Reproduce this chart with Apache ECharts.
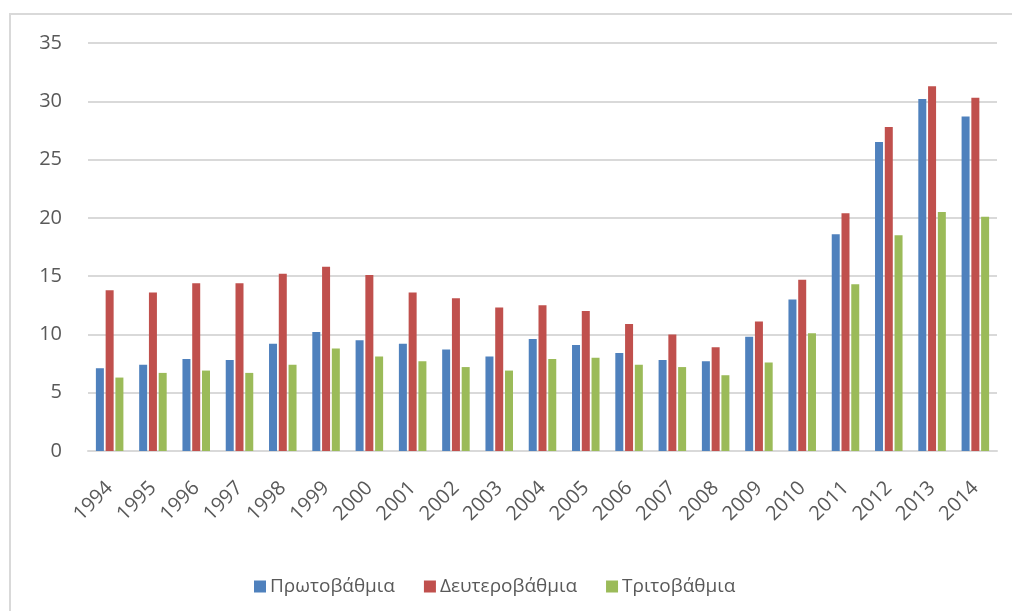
<!DOCTYPE html>
<html>
<head>
<meta charset="utf-8">
<script src="https://cdn.jsdelivr.net/npm/echarts@6/dist/echarts.min.js"></script>
<style>
  html, body { margin: 0; padding: 0; overflow: hidden; background: #fff; }
  #frame {
    position: absolute; left: 9px; top: 13px; width: 1100px; height: 700px;
    border: 2px solid #d9d9d9; box-sizing: border-box;
  }
  #chart { position: absolute; left: 0; top: 0; width: 1012px; height: 611px; }
</style>
</head>
<body>
<div id="frame"></div>
<div id="chart"></div>
<script>
const years = ['1994', '1995', '1996', '1997', '1998', '1999', '2000', '2001', '2002', '2003', '2004',
  '2005', '2006', '2007', '2008', '2009', '2010', '2011', '2012', '2013', '2014']
const primary = [7.1, 7.4, 7.9, 7.8, 9.2, 10.2, 9.5, 9.2, 8.7, 8.1, 9.6, 9.1, 8.4, 7.8, 7.7, 9.8, 13.0, 18.6, 26.5, 30.2, 28.7]
const secondary = [13.8, 13.6, 14.4, 14.4, 15.2, 15.8, 15.1, 13.6, 13.1, 12.3, 12.5, 12.0, 10.9, 10.0, 8.9, 11.1, 14.7, 20.4, 27.8, 31.3, 30.3]
const tertiary = [6.3, 6.7, 6.9, 6.7, 7.4, 8.8, 8.1, 7.7, 7.2, 6.9, 7.9, 8.0, 7.4, 7.2, 6.5, 7.6, 10.1, 14.3, 18.5, 20.5, 20.1]
const seriesNames = ['Πρωτοβάθμια', 'Δευτεροβάθμια', 'Τριτοβάθμια']
const colors = ['#4f81bd', '#c0504d', '#9bbb59']

const font = '"Open Sans", "Noto Sans", sans-serif'
const chart = echarts.init(document.getElementById('chart'))

chart.setOption({
  animation: false,
  color: colors,
  textStyle: { fontFamily: font },
  grid: { left: 88, right: 15, top: 43, bottom: 160 },
  legend: {
    top: 572,
    left: 249,
    icon: 'rect',
    itemWidth: 12,
    itemHeight: 12,
    itemGap: 29,
    textStyle: { color: '#595959', fontSize: 19, fontFamily: font, padding: [0, 0, 0, -1] },
    data: seriesNames,
  },
  xAxis: {
    type: 'category',
    data: years,
    axisLine: { lineStyle: { color: '#d9d9d9', width: 2 } },
    axisTick: { show: false },
    axisLabel: { color: '#595959', fontSize: 20, rotate: 45, margin: 34, interval: 0 },
  },
  yAxis: {
    type: 'value',
    min: 0,
    max: 35,
    interval: 5,
    axisLine: { show: false },
    axisTick: { show: false },
    splitLine: { lineStyle: { color: '#d9d9d9', width: 2 } },
    axisLabel: { color: '#595959', fontSize: 20, margin: 26 },
  },
  series: [
    { name: seriesNames[0], type: 'bar', data: primary, barWidth: 8, barGap: '22%' },
    { name: seriesNames[1], type: 'bar', data: secondary, barWidth: 8, barGap: '22%' },
    { name: seriesNames[2], type: 'bar', data: tertiary, barWidth: 8, barGap: '22%' },
  ],
})
</script>
</body>
</html>
